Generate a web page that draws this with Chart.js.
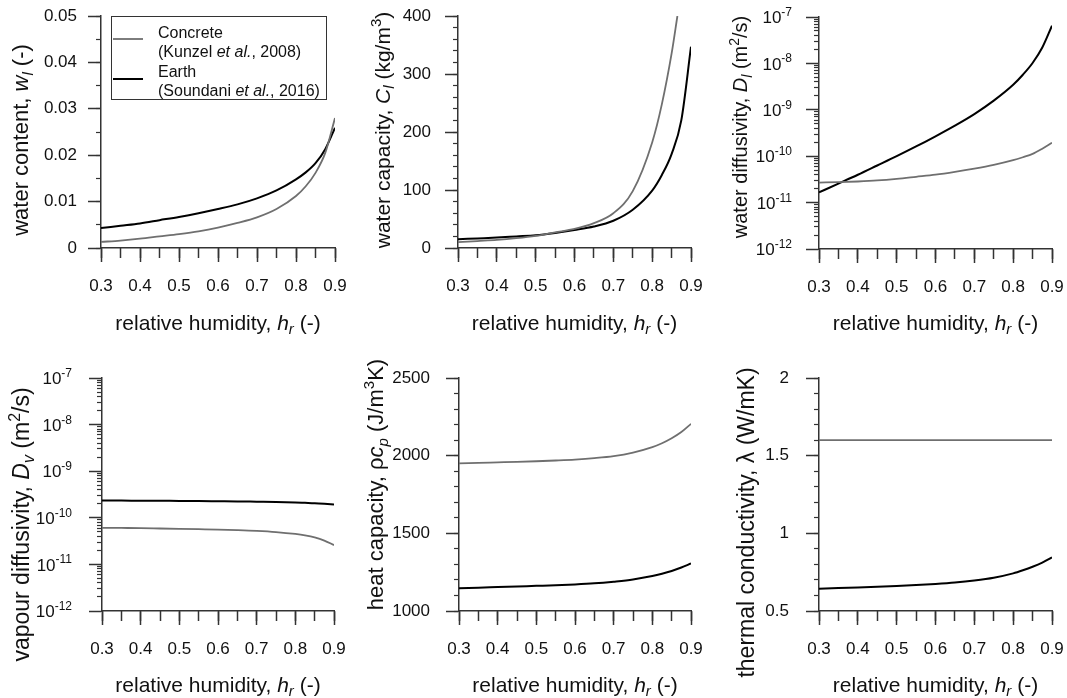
<!DOCTYPE html>
<html>
<head>
<meta charset="utf-8">
<title>Hygrothermal properties</title>
<script src="https://cdn.jsdelivr.net/npm/chart.js@4.4.1/dist/chart.umd.min.js"></script>
<style>
    body { margin: 0; background: #fff; }
    #wrap { position: relative; width: 1067px; height: 698px; overflow: hidden; }
    canvas { position: absolute; }
</style>
</head>
<body>
<div id="wrap">
    <canvas id="c1" width="355" height="340" style="left:0;top:0"></canvas>
    <canvas id="c2" width="355" height="340" style="left:355px;top:0"></canvas>
    <canvas id="c3" width="357" height="340" style="left:710px;top:0"></canvas>
    <canvas id="c4" width="355" height="358" style="left:0;top:340px"></canvas>
    <canvas id="c5" width="355" height="358" style="left:355px;top:340px"></canvas>
    <canvas id="c6" width="357" height="358" style="left:710px;top:340px"></canvas>
</div>
<script>
/* ============================ Data ============================ */
// relative humidity samples
const hr = [0.3, 0.35, 0.4, 0.45, 0.5, 0.55, 0.6, 0.65, 0.7, 0.75, 0.8, 0.825, 0.85, 0.875, 0.9];
// concrete water capacity leaves the plot at 400 before 0.9
const hrCapConcrete = [0.3, 0.35, 0.4, 0.45, 0.5, 0.55, 0.6, 0.65, 0.7, 0.75, 0.8, 0.825, 0.85, 0.865];

// water content w_l (-)
const wlConcrete = [0.0013, 0.0016, 0.0020, 0.0025, 0.0030, 0.0036, 0.0044, 0.0054, 0.0066, 0.0084, 0.0112, 0.0133, 0.0162, 0.0205, 0.0280];
const wlEarth = [0.0043, 0.0048, 0.0053, 0.0060, 0.0067, 0.0075, 0.0084, 0.0094, 0.0107, 0.0124, 0.0148, 0.0163, 0.0183, 0.0213, 0.0259];

// water capacity C_l (kg/m3)
const clConcrete = [10, 12, 14, 17, 21, 27, 33, 43, 60, 98, 182, 248, 335, 400];
const clEarth = [15, 16.5, 18, 20, 22, 26, 31, 37, 47, 66, 99, 126, 162, 220, 347];

// water diffusivity D_l (m2/s)
const dlConcrete = [2.7e-11, 2.75e-11, 2.85e-11, 3.0e-11, 3.25e-11, 3.6e-11, 4.0e-11, 4.6e-11, 5.4e-11, 6.5e-11, 8.2e-11, 9.5e-11, 1.12e-10, 1.45e-10, 1.95e-10];
const dlEarth = [1.66e-11, 2.57e-11, 3.98e-11, 6.3e-11, 1.0e-10, 1.62e-10, 2.69e-10, 4.57e-10, 8.1e-10, 1.58e-9, 3.47e-9, 5.7e-9, 1.02e-8, 2.2e-8, 6.5e-8];

// vapour diffusivity D_v (m2/s)
const dvConcrete = [6.1e-11, 6.05e-11, 6.0e-11, 5.9e-11, 5.8e-11, 5.7e-11, 5.6e-11, 5.45e-11, 5.25e-11, 4.95e-11, 4.5e-11, 4.2e-11, 3.8e-11, 3.25e-11, 2.6e-11];
const dvEarth = [2.35e-10, 2.34e-10, 2.33e-10, 2.32e-10, 2.3e-10, 2.29e-10, 2.27e-10, 2.25e-10, 2.22e-10, 2.19e-10, 2.14e-10, 2.1e-10, 2.06e-10, 2.0e-10, 1.93e-10];

// heat capacity rho*c_p (J/m3K)
const rcConcrete = [1951, 1954, 1957, 1960, 1964, 1969, 1975, 1984, 1997, 2020, 2055, 2080, 2112, 2152, 2205];
const rcEarth = [1146, 1150, 1154, 1158, 1162, 1166, 1171, 1178, 1189, 1203, 1225, 1240, 1258, 1280, 1306];

// thermal conductivity lambda (W/mK)
const lambdaConcrete = [1.6, 1.6, 1.6, 1.6, 1.6, 1.6, 1.6, 1.6, 1.6, 1.6, 1.6, 1.6, 1.6, 1.6, 1.6];
const lambdaEarth = [0.644, 0.648, 0.652, 0.656, 0.661, 0.667, 0.674, 0.683, 0.696, 0.714, 0.742, 0.762, 0.785, 0.812, 0.845];

// log axis decades
const logDecades = [1e-12, 1e-11, 1e-10, 1e-9, 1e-8, 1e-7];

// legend entries (two lines each)
const legendText = [
    [[{ t: "Concrete" }], [{ t: "(Kunzel " }, { t: "et al.", s: "i" }, { t: ", 2008)" }]],
    [[{ t: "Earth" }], [{ t: "(Soundani " }, { t: "et al.", s: "i" }, { t: ", 2016)" }]],
];

/* ============================ Style ============================ */
const FONT = "'Liberation Sans', Arial, Helvetica, sans-serif";
const GREY = "#6f6f6f";
const BLACK = "#000000";
const AXIS = "#333333";
const TEXT = "#111111";
const TICK_SIZE = 17;

Chart.defaults.font.family = FONT;
Chart.defaults.color = TEXT;
Chart.defaults.animation = false;

// minor ticks 2..9 x 10^n for the log axes
const logMinor = [];
for (let e = -12; e < -7; e++) {
    for (let m = 2; m <= 9; m++) logMinor.push(m * Math.pow(10, e));
}

const xTitle = [{ t: "relative humidity, " }, { t: "h", s: "i" }, { t: "r", s: "sub" }, { t: " (-)" }];

/* ============================ Rich text (italic / sub / sup) ============================ */
function partFont(p, size) {
    const small = p.s === "sub" || p.s === "sup";
    const italic = p.s === "i" || p.s === "sub";
    return (italic ? "italic " : "") + Math.round(small ? size * 0.7 : size) + "px " + FONT;
}

function drawRich(ctx, parts, size, x, y, angle, align) {
    ctx.save();
    ctx.translate(x, y);
    ctx.rotate(angle);
    ctx.textBaseline = "alphabetic";
    ctx.textAlign = "left";
    ctx.fillStyle = TEXT;
    let total = 0;
    parts.forEach((p) => {
        ctx.font = partFont(p, size);
        p.w = ctx.measureText(p.t).width;
        total += p.w;
    });
    let cx = -total / 2;
    if (align === "left") cx = 0;
    if (align === "right") cx = -total;
    parts.forEach((p) => {
        ctx.font = partFont(p, size);
        let dy = size * 0.36;
        if (p.s === "sub") dy += size * 0.22;
        if (p.s === "sup") dy -= size * 0.42;
        ctx.fillText(p.t, cx, dy);
        cx += p.w;
    });
    ctx.restore();
}

const richText = {
    id: "richText",
    afterDraw(chart, args, opts) {
        const ctx = chart.ctx;
        const a = chart.chartArea;
        drawRich(ctx, xTitle, 21, (a.left + a.right) / 2, opts.xTitleY, 0);
        drawRich(ctx, opts.yTitle, opts.ySize, opts.yTitleX, (a.top + a.bottom) / 2 + (opts.yShift || 0), -Math.PI / 2);

        // 10^n labels on log axes
        if (opts.logLabels) {
            const sy = chart.scales.y;
            sy.ticks.forEach((t) => {
                const e = String(Math.round(Math.log10(t.value)));
                drawRich(ctx, [{ t: "10" }, { t: e, s: "sup" }], TICK_SIZE,
                    sy.right - 13 - opts.logPad, sy.getPixelForValue(t.value), 0, "right");
            });
        }

        if (opts.legend) {
            const x0 = a.left + 10;
            const y0 = a.top;
            ctx.save();
            ctx.fillStyle = "#fff";
            ctx.fillRect(x0, y0, 215, 83);
            ctx.strokeStyle = AXIS;
            ctx.lineWidth = 1;
            ctx.strokeRect(x0 + 0.5, y0 + 0.5, 215, 83);
            chart.data.datasets.forEach((ds, i) => {
                const ly = y0 + 23 + i * 40;
                ctx.strokeStyle = ds.borderColor;
                ctx.lineWidth = ds.borderWidth;
                ctx.beginPath();
                ctx.moveTo(x0 + 2, ly);
                ctx.lineTo(x0 + 32, ly);
                ctx.stroke();
                legendText[i].forEach((line, j) => {
                    drawRich(ctx, line, 16, x0 + 47, y0 + 16 + i * 39 + j * 19, 0, "left");
                });
            });
            ctx.restore();
        }
    },
};

/* ============================ Panels ============================ */
function points(xs, ys) {
    return ys.map((y, i) => ({ x: xs[i], y: y }));
}

function makePanel(id, p) {
    const isLog = p.yType === "logarithmic";
    const yMajor = {
        type: p.yType,
        position: "left",
        weight: 1,
        min: p.yMin,
        max: p.yMax,
        ticks: {
            stepSize: p.yStep,
            autoSkip: false,
            padding: p.yPad,
            font: { size: TICK_SIZE },
            color: TEXT,
            callback: isLog ? () => "" : p.yFmt,
        },
        grid: { drawOnChartArea: false, tickLength: 13, tickColor: AXIS, tickWidth: 1.5 },
        border: { color: AXIS, width: 1.5 },
        afterFit: (s) => {
            s.width = p.yw;
            s.paddingTop = 0;
            s.paddingBottom = 0;
        },
    };
    const yMinor = {
        type: p.yType,
        position: "left",
        weight: 0,
        min: p.yMin,
        max: p.yMax,
        ticks: { stepSize: p.yMinorStep, autoSkip: false, display: false },
        grid: { drawOnChartArea: false, tickLength: 5, tickColor: AXIS, tickWidth: 1.2 },
        border: { display: false },
        afterFit: (s) => {
            s.width = 0;
            s.paddingTop = 0;
            s.paddingBottom = 0;
        },
    };
    if (isLog) {
        yMajor.afterBuildTicks = (s) => { s.ticks = logDecades.map((v) => ({ value: v })); };
        yMinor.afterBuildTicks = (s) => { s.ticks = logMinor.map((v) => ({ value: v })); };
    }

    return new Chart(document.getElementById(id), {
        type: "line",
        data: {
            datasets: [
                {
                    label: "Concrete",
                    data: points(p.xConcrete || hr, p.concrete),
                    borderColor: GREY,
                    borderWidth: 1.8,
                },
                {
                    label: "Earth",
                    data: points(hr, p.earth),
                    borderColor: BLACK,
                    borderWidth: 2,
                },
            ],
        },
        options: {
            responsive: false,
            parsing: false,
            elements: {
                point: { radius: 0 },
                line: { cubicInterpolationMode: "monotone", fill: false },
            },
            layout: { padding: { top: p.padTop, right: p.padRight, left: 0, bottom: 0 } },
            scales: {
                x: {
                    type: "linear",
                    position: "bottom",
                    weight: 1,
                    min: 0.3,
                    max: 0.9,
                    ticks: {
                        stepSize: 0.1,
                        autoSkip: false,
                        maxRotation: 0,
                        padding: 14,
                        font: { size: TICK_SIZE },
                        color: TEXT,
                        callback: (v) => v.toFixed(1),
                    },
                    grid: { drawOnChartArea: false, tickLength: 14, tickColor: AXIS, tickWidth: 1.5 },
                    border: { color: AXIS, width: 1.5 },
                    afterFit: (s) => {
                        s.height = p.xh;
                        s.paddingLeft = 0;
                        s.paddingRight = 0;
                    },
                },
                xMinor: {
                    type: "linear",
                    position: "bottom",
                    weight: 0,
                    min: 0.3,
                    max: 0.9,
                    ticks: { stepSize: 0.05, autoSkip: false, display: false },
                    grid: { drawOnChartArea: false, tickLength: 10, tickColor: AXIS, tickWidth: 1.5 },
                    border: { display: false },
                    afterFit: (s) => {
                        s.height = 0;
                        s.paddingLeft = 0;
                        s.paddingRight = 0;
                    },
                },
                y: yMajor,
                yMinor: yMinor,
            },
            plugins: {
                legend: { display: false },
                tooltip: { enabled: false },
                richText: {
                    xTitleY: p.xTitleY,
                    yTitle: p.yTitle,
                    ySize: p.ySize,
                    yTitleX: p.yTitleX,
                    yShift: p.yShift,
                    legend: p.legend,
                    logLabels: isLog,
                    logPad: p.yPad,
                },
            },
        },
        plugins: [richText],
    });
}

/* ============================ Water content ============================ */
const chartWl = makePanel("c1", {
    yType: "linear", yMin: 0, yMax: 0.05, yStep: 0.01, yMinorStep: 0.005, yPad: 11,
    yFmt: (v) => (v === 0 ? "0" : v.toFixed(2)),
    concrete: wlConcrete, earth: wlEarth,
    yw: 101, padTop: 16, padRight: 20, xh: 92, xTitleY: 322, yTitleX: 20, ySize: 22, yShift: 8,
    yTitle: [{ t: "water content, " }, { t: "w", s: "i" }, { t: "l", s: "sub" }, { t: " (-)" }],
    legend: true,
});

/* ============================ Water capacity ============================ */
const chartCl = makePanel("c2", {
    yType: "linear", yMin: 0, yMax: 400, yStep: 100, yMinorStep: 20, yPad: 14,
    yFmt: (v) => String(v),
    xConcrete: hrCapConcrete, concrete: clConcrete, earth: clEarth,
    yw: 103, padTop: 16, padRight: 19, xh: 92, xTitleY: 322, yTitleX: 27, ySize: 21, yShift: -2,
    yTitle: [{ t: "water capacity, " }, { t: "C", s: "i" }, { t: "l", s: "sub" }, { t: " (kg/m" }, { t: "3", s: "sup" }, { t: ")" }],
});

/* ============================ Water diffusivity ============================ */
const chartDl = makePanel("c3", {
    yType: "logarithmic", yMin: 1e-12, yMax: 1e-7, yPad: 14,
    concrete: dlConcrete, earth: dlEarth,
    yw: 109, padTop: 17, padRight: 15, xh: 91, xTitleY: 322, yTitleX: 30, ySize: 20, yShift: -6,
    yTitle: [{ t: "water diffusivity, " }, { t: "D", s: "i" }, { t: "l", s: "sub" }, { t: " (m" }, { t: "2", s: "sup" }, { t: "/s)" }],
});

/* ============================ Vapour diffusivity ============================ */
const chartDv = makePanel("c4", {
    yType: "logarithmic", yMin: 1e-12, yMax: 1e-7, yPad: 17,
    concrete: dvConcrete, earth: dvEarth,
    yw: 102, padTop: 38, padRight: 21, xh: 87, xTitleY: 344, yTitleX: 21, ySize: 23, yShift: 30,
    yTitle: [{ t: "vapour diffusivity, " }, { t: "D", s: "i" }, { t: "v", s: "sub" }, { t: " (m" }, { t: "2", s: "sup" }, { t: "/s)" }],
});

/* ============================ Heat capacity ============================ */
const chartRc = makePanel("c5", {
    yType: "linear", yMin: 1000, yMax: 2500, yStep: 500, yMinorStep: 100, yPad: 16,
    yFmt: (v) => String(v),
    concrete: rcConcrete, earth: rcEarth,
    yw: 104, padTop: 38, padRight: 19, xh: 87, xTitleY: 344, yTitleX: 20, ySize: 22, yShift: -10,
    yTitle: [{ t: "heat capacity, \u03C1" }, { t: "c", s: "i" }, { t: "p", s: "sub" }, { t: " (J/m" }, { t: "3", s: "sup" }, { t: "K)" }],
});

/* ============================ Thermal conductivity ============================ */
const chartLambda = makePanel("c6", {
    yType: "linear", yMin: 0.5, yMax: 2, yStep: 0.5, yMinorStep: 0.1, yPad: 17,
    yFmt: (v) => (Number.isInteger(v) ? String(v) : v.toFixed(1)),
    concrete: lambdaConcrete, earth: lambdaEarth,
    yw: 109, padTop: 38, padRight: 15, xh: 87, xTitleY: 344, yTitleX: 36, ySize: 23, yShift: 28,
    yTitle: [{ t: "thermal conductivity, \u03BB (W/mK)" }],
});
</script>
</body>
</html>
